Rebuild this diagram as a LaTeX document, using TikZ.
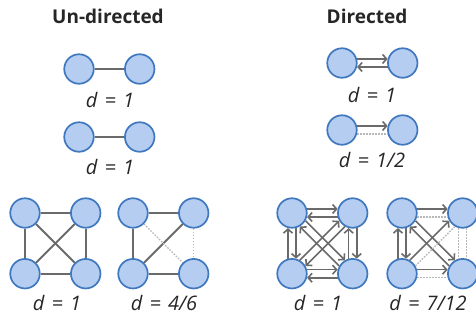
\documentclass[tikz,border=0pt]{standalone}
\usepackage{fontspec}
\setmainfont{Open Sans}
\usetikzlibrary{arrows.meta,positioning}
\definecolor{vfill}{HTML}{B4CDF0}
\definecolor{vedge}{HTML}{3F78BF}
\definecolor{egray}{HTML}{6A6A6A}
\newcommand\lblfont{\itshape\fontsize{20}{24}\selectfont\spaceskip .36em\relax}
\begin{document}
\begin{tikzpicture}[x=1pt,y=-1pt,>={Straight Barb[length=4pt,width=9pt]},node distance=29.5pt]
\tikzstyle{vtx}=[circle,draw=vedge,fill=vfill,line width=1.7pt,minimum size=29.5pt,inner sep=0pt]
\tikzstyle{ttl}=[font=\bfseries\fontsize{19}{22}\selectfont,text=black!85,anchor=base]
\tikzstyle{lbl}=[font=\lblfont,text=black!85,anchor=base]
\tikzstyle{ln}=[draw=egray,line width=1.9pt]
\tikzstyle{arr}=[draw=egray,line width=1.6pt,->]
\tikzstyle{miss}=[draw=black!28,line width=1.4pt,dash pattern=on 1.6pt off 1.4pt]
\useasboundingbox (0,0) rectangle (476,322);
\node[ttl] (tu) at (108,23) {Un-directed};
\node[ttl] (td) at (367,23) {Directed};
\node[vtx] (ua) at (79,69) {};
\node[vtx,right=of ua] (ub) {};
\node[vtx] (uc) at (79,137) {};
\node[vtx,right=of uc] (ud) {};
\node[lbl] (lua) at (110,107) {d = 1};
\node[lbl] (lub) at (110,174) {d = 1};
\draw[ln] (ua)--(ub);
\draw[ln] (uc)--(ud);
\node[vtx] (da) at (342,63) {};
\node[vtx,right=of da] (db) {};
\node[vtx] (dc) at (342,130) {};
\node[vtx,right=of dc] (dd) {};
\node[lbl] (lda) at (372,102) {d = 1};
\node[lbl] (ldb) at (372,167) {d = 1/2};
\draw[arr] (da.15)--(db.165);
\draw[arr] (db.-165)--(da.-15);
\draw[arr] (dc.15)--(dd.165);
\draw[miss] (dc.-15)--(dd.-165);
\node[vtx] (p1) at (25,213) {};
\node[vtx,right=of p1] (p2) {};
\node[vtx,below=of p1] (p3) {};
\node[vtx,right=of p3] (p4) {};
\node[lbl] (lp) at (57,310) {d = 1};
\draw[ln] (p1)--(p2);
\draw[ln] (p1)--(p3);
\draw[ln] (p1)--(p4);
\draw[ln] (p2)--(p3);
\draw[ln] (p2)--(p4);
\draw[ln] (p3)--(p4);
\node[vtx] (q1) at (133,213) {};
\node[vtx,right=of q1] (q2) {};
\node[vtx,below=of q1] (q3) {};
\node[vtx,right=of q3] (q4) {};
\node[lbl] (lq) at (164,310) {d = 4/6};
\draw[ln] (q1)--(q2);
\draw[ln] (q1)--(q3);
\draw[ln] (q3)--(q2);
\draw[ln] (q3)--(q4);
\draw[miss] (q1)--(q4);
\draw[miss] (q2)--(q4);
\node[vtx] (e1) at (292,213) {};
\node[vtx,right=of e1] (e2) {};
\node[vtx,below=of e1] (e3) {};
\node[vtx,right=of e3] (e4) {};
\node[lbl] (le) at (318,310) {d = 1};
\draw[arr] (e1.15)--(e2.165);
\draw[arr] (e2.-165)--(e1.-15);
\draw[arr] (e3.15)--(e4.165);
\draw[arr] (e4.-165)--(e3.-15);
\draw[arr] (e3.105)--(e1.-105);
\draw[arr] (e1.-75)--(e3.75);
\draw[arr] (e4.105)--(e2.-105);
\draw[arr] (e2.-75)--(e4.75);
\draw[arr] (e1.-30)--(e4.120);
\draw[arr] (e4.150)--(e1.-60);
\draw[arr] (e3.60)--(e2.-150);
\draw[arr] (e2.-120)--(e3.30);
\node[vtx] (f1) at (402,213) {};
\node[vtx,right=of f1] (f2) {};
\node[vtx,below=of f1] (f3) {};
\node[vtx,right=of f3] (f4) {};
\node[lbl] (lf) at (428,310) {d = 7/12};
\draw[arr] (f1.15)--(f2.165);
\draw[miss] (f1.-15)--(f2.-165);
\draw[arr] (f3.15)--(f4.165);
\draw[miss] (f3.-15)--(f4.-165);
\draw[arr] (f3.105)--(f1.-105);
\draw[arr] (f1.-75)--(f3.75);
\draw[miss] (f2.-105)--(f4.105);
\draw[miss] (f2.-75)--(f4.75);
\draw[arr] (f1.-30)--(f4.120);
\draw[arr] (f4.150)--(f1.-60);
\draw[arr] (f3.60)--(f2.-150);
\draw[miss] (f3.30)--(f2.-120);
\end{tikzpicture}
\end{document}
